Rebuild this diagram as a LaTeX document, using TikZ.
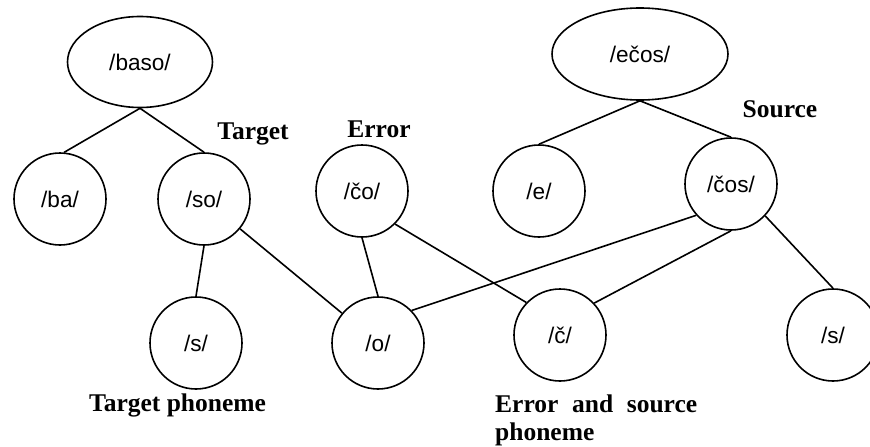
\documentclass[tikz,border=0pt]{standalone}
\usepackage{fontspec}
\setmainfont{Liberation Serif}
\newfontfamily\nodefont{Liberation Sans}
\usetikzlibrary{shapes.geometric}
\begin{document}
\begin{tikzpicture}[x=1pt,y=-1pt,
  word/.style={circle,draw,line width=1.6pt,minimum size=92pt,inner sep=0pt,font=\nodefont\fontsize{22.6}{27}\selectfont},
  wordell/.style={ellipse,draw,line width=1.6pt,inner sep=0pt,font=\nodefont\fontsize{22.6}{27}\selectfont},
  lbl/.style={font=\bfseries\fontsize{25.5}{28}\selectfont,inner sep=0pt},
  link/.style={line width=1.6pt}]
\useasboundingbox (0,0) rectangle (870,447);
\clip (0,0) rectangle (870,447);
% word nodes
\node[wordell,minimum width=145pt,minimum height=91pt] (baso) at (140,62) {/baso/};
\node[wordell,minimum width=176pt,minimum height=92pt] (ecos) at (640,54) {/ečos/};
\node[word] (ba) at (60,199) {/ba/};
\node[word] (so) at (204,199) {/so/};
\node[word] (co) at (362,191) {/čo/};
\node[word] (e) at (539,191) {/e/};
\node[word] (cos) at (731,184) {/čos/};
\node[word] (s1) at (196,343) {/s/};
\node[word] (o) at (378,343) {/o/};
\node[word] (c) at (560,335) {/č/};
\node[word] (s2) at (833,335) {/s/};
% connectors
\draw[link] (baso.south) -- (ba.85);
\draw[link] (baso.south) -- (so.north);
\draw[link] (ecos.south) -- (e.north);
\draw[link] (ecos.south) -- (cos.north);
\draw[link] (so.south) -- (s1.north);
\draw[link] (so) -- (o);
\draw[link] (co.south) -- (o.north);
\draw[link] (co.-45) -- (c.136);
\draw[link] (cos.222) -- (o.44);
\draw[link] (cos.south) -- (c.43);
\draw[link] (cos.-43) -- (s2.north);
% labels
\node[lbl,anchor=base] (tgt) at (253,139) {Target};
\node[lbl,anchor=base] (err) at (379,137) {Error};
\node[lbl,anchor=base] (src) at (780,117) {Source};
\node[lbl,anchor=base] (tph) at (177.5,411) {Target phoneme};
\node[lbl,anchor=base west] (esp1) at (495,412) {\makebox[202pt][s]{Error and source}};
\node[lbl,anchor=base west] (esp2) at (495,440) {phoneme};
\end{tikzpicture}
\end{document}
